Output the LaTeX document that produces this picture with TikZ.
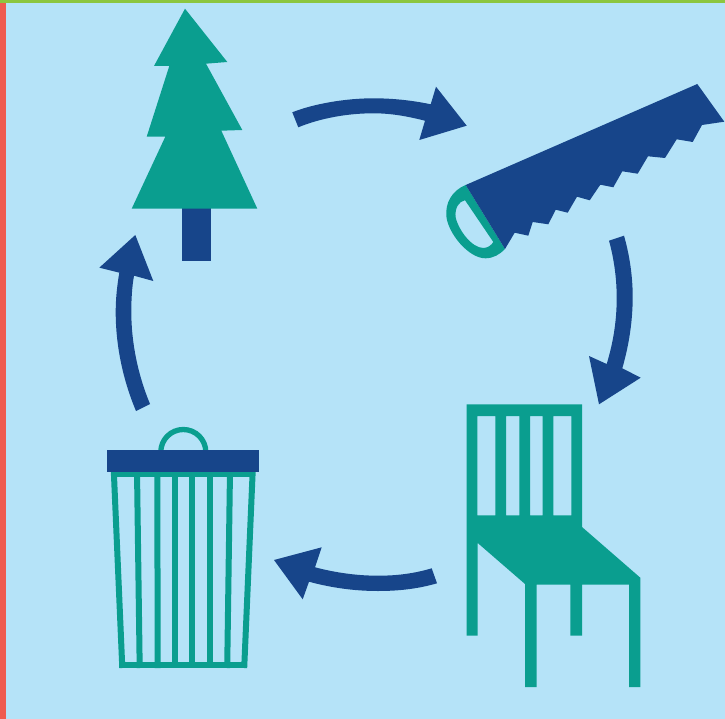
\documentclass[tikz,border=0pt]{standalone}
\definecolor{skybg}{HTML}{B5E3F8}
\definecolor{navy}{HTML}{17458A}
\definecolor{teal}{HTML}{0A9E8F}
\definecolor{redbar}{HTML}{EF5B50}
\definecolor{greenbar}{HTML}{8CC63F}
\tikzset{
  navyshape/.style={fill=navy,draw=none},
  tealshape/.style={fill=teal,draw=none,even odd rule},
  bar/.style={draw=teal,line width=6pt,line cap=butt},
}
\begin{document}
\begin{tikzpicture}[x=1pt,y=-1pt]
\useasboundingbox (0,0) rectangle (725,719);
% background and edge bars
\fill[skybg] (0,0) rectangle (725,719);
\fill[redbar] (0,0) rectangle (6,719);
\fill[greenbar] (0,0) rectangle (725,3);
% tree
\fill[navyshape] (181.7,208) rectangle (211.3,261.3);
\fill[tealshape] (185,8.7) -- (227.3,62) -- (206,63.7) -- (242.3,130) -- (221.3,130.7) -- (257.3,208.7)
  -- (131.7,208.7) -- (165.3,136.7) -- (146.7,136.7) -- (169.3,66) -- (154,66) -- cycle;
% saw
\fill[tealshape] (465.7,185) .. controls (451.7,190.7) and (445,203.3) .. (446.4,216.7)
  .. controls (448.3,233.3) and (468.3,258.3) .. (485.5,258.3)
  .. controls (493.3,258.3) and (500,254.3) .. (505,249) -- cycle
  (465,200.2) .. controls (458.3,201.7) and (455,208.3) .. (455.5,216.7)
  .. controls (458.3,230) and (471.7,248) .. (483.5,248)
  .. controls (487.5,248) and (491.7,245) .. (493.3,242) -- cycle;
\fill[navyshape] (465.7,185) -- (697.3,84) -- (724.3,121.7) -- (702,125) -- (692.7,142) -- (676.7,139.3)
  -- (665,158) -- (648,156.3) -- (637.7,173.7) -- (622.3,171.3) -- (613.3,187.3) -- (600.3,184.7)
  -- (589.7,200.3) -- (577,196.7) -- (567.7,212.7) -- (555.7,209.7) -- (548.3,224.3) -- (532.7,222)
  -- (528.3,235.7) -- (514.7,232.7) -- (505,249) -- cycle;
% chair
\fill[tealshape] (466.7,404.3) -- (582,404.3) -- (582,527) -- (640.3,577.7) -- (640.3,687) -- (629,687)
  -- (629,584.7) -- (582,584.7) -- (582,635.7) -- (570.3,635.7) -- (570.3,584.7) -- (536.7,584.7)
  -- (536.7,687) -- (525,687) -- (525,584) -- (477.7,543) -- (477.7,635.7) -- (466.7,635.7) -- cycle
  (477.3,416) rectangle (495.3,515.3)
  (506,416) rectangle (519.3,515.3)
  (530,416) rectangle (542.7,515.3)
  (553.3,416) rectangle (571.3,515.3);
% bin
\draw[teal,line width=5.3pt] (160.8,452) arc[start angle=180,end angle=360,radius=22.5];
\fill[teal] (111,471) rectangle (255.3,477.3);
\fill[teal] (119.3,662.3) rectangle (246.7,668);
\draw[bar] (113.8,471) -- (122.3,668);
\draw[bar] (137,471) -- (139.7,668);
\draw[bar] (157.3,471) -- (157.7,668);
\draw[bar] (174.7,471) -- (174.7,668);
\draw[bar] (192,471) -- (192,668);
\draw[bar] (209.5,471) -- (209.5,668);
\draw[bar] (230,471) -- (227.2,668);
\draw[bar] (252.7,471) -- (244.2,668);
\fill[navyshape] (107.3,450) rectangle (258.7,471.7);
% arrows
\fill[navyshape] (292.3,112.3) .. controls (313,104) and (345,98.3) .. (373.3,98.3)
  .. controls (393,98.3) and (413,100.5) .. (430.7,104.3)
  -- (436,86.7) -- (466.7,125.7) -- (419.3,140) -- (425,120.7)
  .. controls (408,116.5) and (392,113.3) .. (373.3,113.3)
  .. controls (348,113.3) and (321,118) .. (298.3,127.3) -- cycle;
\fill[navyshape] (624,235.7) .. controls (629.5,255) and (632.7,276) .. (632.7,296.7)
  .. controls (632.7,321) and (629,345) .. (622.3,368.3)
  -- (640.7,377.7) -- (599,404.3) -- (589,356) -- (606.7,364)
  .. controls (613,343) and (616.7,322) .. (616.7,298)
  .. controls (616.7,278) and (614,259) .. (609,240.7) -- cycle;
\fill[navyshape] (431.7,568.3) .. controls (415,573.3) and (398,575.7) .. (378,575.7)
  .. controls (356,575.7) and (335,572.5) .. (315,567.3)
  -- (321.7,547.3) -- (274,560) -- (302.7,599.3) -- (309,581.7)
  .. controls (331,587.7) and (354,591) .. (378,591)
  .. controls (399,591) and (418,588.8) .. (437,583.3) -- cycle;
\fill[navyshape] (150,404) .. controls (138,375) and (131.3,343) .. (131.3,312)
  .. controls (131.3,299) and (132,287) .. (134,275.7)
  -- (153.3,281) -- (135.3,235) -- (99.3,267.7) -- (119.3,272.7)
  .. controls (117,286) and (115.7,299) .. (115.7,312)
  .. controls (115.7,346) and (123,380) .. (136,411) -- cycle;
\end{tikzpicture}
\end{document}
